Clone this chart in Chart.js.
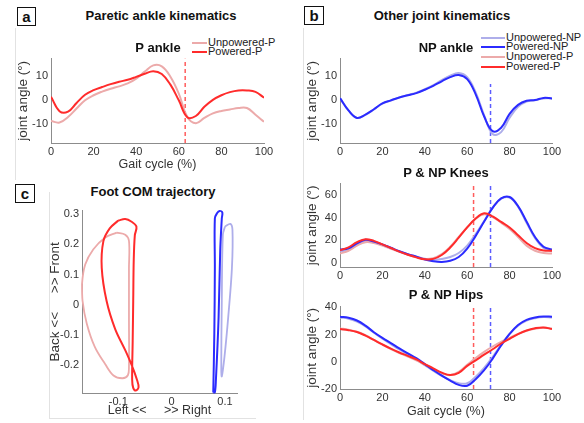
<!DOCTYPE html>
<html>
<head>
<meta charset="utf-8">
<script src="https://cdn.jsdelivr.net/npm/chart.js@4.4.0/dist/chart.umd.min.js"></script>
<style>
body { margin: 0; width: 584px; height: 423px; background: #fff; position: relative; overflow: hidden;
       font-family: 'Liberation Sans', Arial, sans-serif; }
canvas { position: absolute; }
.t { position: absolute; font-weight: bold; font-size: 13px; color: #111; white-space: nowrap;
     transform: translate(-50%, -50%); z-index: 3; }
.box { position: absolute; border: 1.5px solid #111; font-weight: bold; font-size: 15px; line-height: 17px;
       text-align: center; color: #111; z-index: 3; }
.rule { position: absolute; background: #e2e2e2; }
.leg { position: absolute; background: #fff; font-size: 11px; color: #222; z-index: 3; }
.leg div { position: absolute; white-space: nowrap; }
.leg i { position: absolute; height: 2px; }
</style>
</head>
<body>

<div class="rule" style="left:15px;top:28px;width:1px;height:152px"></div>
<div class="rule" style="left:303px;top:28px;width:1px;height:392px"></div>
<div class="rule" style="left:49px;top:192px;width:1px;height:226px"></div>
<div class="rule" style="left:49px;top:418px;width:207px;height:1px"></div>

<div class="box" style="left:17px;top:7px;width:17px;height:17px">a</div>
<div class="box" style="left:304px;top:6px;width:18px;height:17px">b</div>
<div class="box" style="left:15px;top:184px;width:18px;height:17px">c</div>

<div class="t" style="left:161px;top:15px">Paretic ankle kinematics</div>
<div class="t" style="left:158px;top:47px">P ankle</div>
<div class="t" style="left:442px;top:15px">Other joint kinematics</div>
<div class="t" style="left:446px;top:47px">NP ankle</div>
<div class="t" style="left:446px;top:172px">P &amp; NP Knees</div>
<div class="t" style="left:446px;top:294px">P &amp; NP Hips</div>
<div class="t" style="left:153px;top:191px">Foot COM trajectory</div>

<canvas id="cA" width="259" height="122" style="left:17px;top:49px"></canvas>
<canvas id="cB1" width="258" height="112" style="left:306px;top:49px"></canvas>
<canvas id="cB2" width="258" height="111" style="left:306px;top:174px"></canvas>
<canvas id="cB3" width="258" height="121" style="left:306px;top:297px"></canvas>
<canvas id="cC" width="198" height="216" style="left:49px;top:201px"></canvas>

<div class="leg" id="legA" style="left:190px;top:36px;width:86px;height:21px"></div>
<div class="leg" id="legB" style="left:479px;top:29px;width:105px;height:55px"></div>

<script>
// ---- data ----
const gait = [0, 4, 8, 12, 16, 20, 24, 28, 32, 36, 40, 44, 48, 52, 56, 60, 64, 68, 72, 76, 80, 84, 88, 92, 96, 100];

// paretic ankle (panel a)
const ankleP_unpowered = [-8.9, -9.5, -7.2, -3.7, -0.3, 1.8, 3.3, 4.5, 5.5, 6.7, 8.7, 11.6, 14.2, 13.8, 9.6, 2.5, -7.2, -9.8, -7.6, -5.7, -4.7, -4.1, -3.5, -3.5, -6.3, -9.2];
const ankleP_powered   = [1.2, -4.8, -5.0, -1.4, 2.0, 3.9, 5.2, 6.4, 7.4, 8.2, 9.4, 10.7, 11.8, 10.6, 6.3, -0.3, -7.3, -6.8, -3.0, -0.1, 1.8, 3.1, 3.8, 3.8, 3.2, 0.8];

// non-paretic ankle
const ankleNP_unpowered = [0.6, -4.5, -7.6, -6.3, -4.1, -1.7, -0.4, 0.9, 1.9, 2.9, 4.3, 6.0, 8.1, 9.9, 11.0, 9.3, 3.0, -6.5, -14.3, -13.5, -7.5, -3.0, -0.8, -0.3, 0.5, 0.5];
const ankleNP_powered   = [0.6, -4.5, -7.6, -6.2, -4.0, -1.6, -0.3, 0.9, 1.8, 2.7, 4.1, 5.7, 7.6, 9.3, 10.2, 8.5, 2.2, -7.0, -13.1, -11.7, -5.9, -2.2, -0.5, -0.2, 0.7, 0.5];

// knees
const kneeNP_unpowered = [10.5, 11.8, 16.0, 19.5, 18.5, 16.2, 13.4, 10.5, 8.0, 6.0, 4.0, 3.2, 3.8, 5.5, 9.0, 15.5, 25.5, 37.0, 48.5, 56.5, 57.5, 49.5, 35.5, 22.0, 13.5, 10.5];
const kneeNP_powered   = [12.0, 13.2, 17.5, 20.6, 19.0, 16.6, 13.6, 10.6, 8.0, 5.8, 3.4, 1.8, 1.2, 2.2, 5.5, 12.9, 24.0, 36.5, 48.5, 56.8, 58.0, 50.0, 36.5, 23.0, 14.5, 12.0];
const kneeP_unpowered  = [8.5, 11.0, 15.5, 18.5, 17.8, 15.5, 12.8, 10.0, 7.5, 5.3, 3.8, 4.5, 8.0, 14.5, 23.0, 31.5, 39.0, 42.8, 40.5, 35.5, 30.0, 23.0, 15.5, 11.0, 9.0, 8.5];
const kneeP_powered    = [11.4, 14.0, 18.5, 21.1, 19.6, 16.6, 13.4, 10.2, 7.5, 5.2, 3.6, 3.9, 7.3, 13.8, 22.4, 31.4, 39.2, 43.7, 41.0, 36.2, 31.4, 24.6, 17.8, 13.3, 11.2, 10.9];

// hips
const hipNP_unpowered = [32.5, 31.6, 29.5, 26.0, 21.3, 17.0, 13.0, 9.0, 5.3, 1.6, -2.5, -6.6, -10.4, -13.5, -15.8, -15.8, -11.0, -4.5, 3.5, 12.5, 20.5, 26.5, 30.2, 32.0, 32.8, 32.5];
const hipNP_powered   = [33.1, 32.3, 30.3, 26.5, 21.7, 17.5, 13.7, 9.8, 6.2, 2.6, -1.7, -6.1, -10.2, -13.8, -17.0, -17.6, -12.8, -6.2, 2.3, 11.9, 20.4, 27.0, 30.8, 32.5, 33.2, 33.1];
const hipP_unpowered  = [24.5, 23.5, 22.0, 19.5, 16.0, 12.5, 9.3, 6.4, 3.8, 1.0, -2.2, -5.5, -8.5, -9.8, -7.5, -2.2, 2.8, 7.3, 11.2, 14.6, 17.5, 20.5, 22.8, 24.3, 25.0, 24.5];
const hipP_powered    = [24.0, 23.2, 21.8, 19.2, 16.0, 12.7, 9.6, 6.8, 4.3, 1.7, -1.7, -4.8, -8.0, -9.8, -8.2, -3.0, 1.0, 5.3, 9.2, 13.4, 16.8, 20.3, 23.0, 24.6, 25.2, 24.0];

// toe-off (% gait cycle)
const toeOffP = 63;
const toeOffNP = 71;

// foot COM trajectory loops (m)
const comP_unpowered_x = [-0.103, -0.087, -0.080, -0.080, -0.080, -0.080, -0.082, -0.092, -0.109, -0.125, -0.144, -0.159, -0.167, -0.168, -0.162, -0.147, -0.125, -0.103];
const comP_unpowered_y = [0.239, 0.232, 0.212, 0.120, -0.040, -0.205, -0.234, -0.244, -0.235, -0.196, -0.140, -0.063, 0.013, 0.068, 0.133, 0.183, 0.222, 0.239];
const comP_powered_x = [-0.100, -0.087, -0.075, -0.066, -0.069, -0.071, -0.072, -0.073, -0.074, -0.072, -0.067, -0.062, -0.065, -0.075, -0.087, -0.106, -0.122, -0.131, -0.128, -0.116, -0.100];
const comP_powered_y = [0.279, 0.284, 0.275, 0.259, 0.230, 0.150, 0.013, -0.120, -0.249, -0.276, -0.285, -0.274, -0.249, -0.200, -0.151, -0.080, 0.013, 0.122, 0.210, 0.253, 0.279];
const comNP_powered_x = [0.078, 0.080, 0.081, 0.081, 0.085, 0.090, 0.095, 0.094, 0.091, 0.088, 0.083, 0.081, 0.078];
const comNP_powered_y = [-0.291, -0.096, 0.122, 0.286, 0.303, 0.311, 0.306, 0.286, 0.177, -0.042, -0.249, -0.291, -0.291];
const comNP_unpowered_x = [0.100, 0.110, 0.114, 0.113, 0.106, 0.099, 0.094, 0.093, 0.094, 0.096, 0.100];
const comNP_unpowered_y = [0.259, 0.268, 0.248, 0.122, -0.042, -0.173, -0.238, -0.216, 0.013, 0.232, 0.259];

// tick labels
const gaitTicks = [0, 20, 40, 60, 80, 100];
const ankleTicks = [-10, 0, 10];
const kneeTicks = [0, 20, 40, 60];
const hipTicks = [-20, 0, 20, 40];
const comXTicks = [-0.1, 0, 0.1];
const comYTicks = [-0.2, -0.1, 0, 0.1, 0.2, 0.3];

// ---- styles ----
const RED = '#ff2b2b', RED_L = '#ecaaaa', BLUE = '#2b2bff', BLUE_L = '#aeaeea';
const RED_D = '#ff5c5c', BLUE_D = '#5c5cff';
const AXIS = '#8c8c8c', TXT = '#333';
const FONT = "'Liberation Sans', Arial, sans-serif";
Chart.defaults.font.family = FONT;
Chart.defaults.animation = false;

const series = {
  unpNP: { label: 'Unpowered-NP', color: BLUE_L, order: 3 },
  powNP: { label: 'Powered-NP', color: BLUE, order: 1 },
  unpP:  { label: 'Unpowered-P', color: RED_L, order: 2 },
  powP:  { label: 'Powered-P', color: RED, order: 0 }
};

function curve(key, values) {
  const s = series[key];
  return {
    label: s.label,
    data: gait.map((g, i) => ({ x: g, y: values[i] })),
    borderColor: s.color, borderWidth: 2, pointRadius: 0, tension: 0.4, order: s.order
  };
}

function loop(key, xs, ys) {
  const s = series[key];
  return {
    label: s.label,
    data: xs.map((x, i) => ({ x: x, y: ys[i] })),
    showLine: true, borderColor: s.color, borderWidth: key.startsWith('pow') ? 2 : 1.8,
    pointRadius: 0, tension: 0.35, order: s.order, clip: false
  };
}

function toeOff(at, yMin, yMax, color) {
  return {
    data: [{ x: at, y: yMin }, { x: at, y: yMax }],
    borderColor: color, borderWidth: 1.5, borderDash: [4, 3], pointRadius: 0, order: 9
  };
}

function axis(min, max, ticks, size, title, pad) {
  const horiz = pad === 'x';
  return {
    type: 'linear', min: min, max: max,
    afterBuildTicks: s => { s.ticks = ticks.map(v => ({ value: v })); },
    afterFit: s => { if (horiz) s.height = size; else s.width = size; },
    grid: { display: false, drawTicks: false },
    border: { display: true, color: AXIS, width: 1 },
    ticks: { padding: horiz ? 2 : 3, color: TXT, font: { size: 11 }, maxRotation: 0, autoSkip: false,
             callback: v => String(v) },
    title: title ? { display: true, text: title, color: TXT,
                     font: { size: horiz ? 12.5 : 13.5, lineHeight: 1 }, padding: 0 }
                 : { display: false }
  };
}

function draw(id, datasets, x, y, padRight) {
  new Chart(document.getElementById(id), {
    type: 'scatter',
    data: { datasets: datasets },
    options: {
      responsive: false,
      layout: { padding: { left: 0, top: 8, right: padRight, bottom: 0 } },
      plugins: { legend: { display: false }, tooltip: { enabled: false } },
      elements: { line: { fill: false } },
      datasets: { scatter: { showLine: true } },
      scales: { x: x, y: y }
    }
  });
}

// panel a
draw('cA', [
  curve('unpP', ankleP_unpowered),
  curve('powP', ankleP_powered),
  toeOff(toeOffP, -18, 17, RED_D)
], axis(0, 100, gaitTicks, 28, 'Gait cycle (%)', 'x'),
   axis(-18, 17, ankleTicks, 34, 'joint angle (\u00b0)', 'y'), 12);

// panel b
draw('cB1', [
  curve('unpNP', ankleNP_unpowered),
  curve('powNP', ankleNP_powered),
  toeOff(toeOffNP, -18, 17, BLUE_D)
], axis(0, 100, gaitTicks, 18, null, 'x'),
   axis(-18, 17, ankleTicks, 34, 'joint angle (\u00b0)', 'y'), 12);

draw('cB2', [
  curve('unpNP', kneeNP_unpowered),
  curve('powNP', kneeNP_powered),
  curve('unpP', kneeP_unpowered),
  curve('powP', kneeP_powered),
  toeOff(toeOffP, -3.2, 69.7, RED_D),
  toeOff(toeOffNP, -3.2, 69.7, BLUE_D)
], axis(0, 100, gaitTicks, 18, null, 'x'),
   axis(-3.2, 69.7, kneeTicks, 34, 'joint angle (\u00b0)', 'y'), 12);

draw('cB3', [
  curve('unpNP', hipNP_unpowered),
  curve('powNP', hipNP_powered),
  curve('unpP', hipP_unpowered),
  curve('powP', hipP_powered),
  toeOff(toeOffP, -20, 40.5, RED_D),
  toeOff(toeOffNP, -20, 40.5, BLUE_D)
], axis(0, 100, gaitTicks, 29, 'Gait cycle (%)', 'x'),
   axis(-20, 40.5, hipTicks, 34, 'joint angle (\u00b0)', 'y'), 12);

// panel c
draw('cC', [
  loop('unpP', comP_unpowered_x, comP_unpowered_y),
  loop('powP', comP_powered_x, comP_powered_y),
  loop('unpNP', comNP_unpowered_x, comNP_unpowered_y),
  loop('powNP', comNP_powered_x, comNP_powered_y)
], axis(-0.168, 0.1225, comXTicks, 24, 'Left <<     >> Right', 'x'),
   axis(-0.293, 0.312, comYTicks, 33, 'Back <<     >> Front', 'y'), 10);

// legends
function legend(id, keys, lineW, rowY, rowH) {
  const el = document.getElementById(id);
  keys.forEach((k, i) => {
    const y = rowY + i * rowH;
    const ln = document.createElement('i');
    ln.style.cssText = `left:2px;top:${y - 1}px;width:${lineW}px;background:${series[k].color}`;
    const tx = document.createElement('div');
    tx.style.cssText = `left:${lineW + 3}px;top:${y - 7}px`;
    tx.textContent = series[k].label;
    el.appendChild(ln);
    el.appendChild(tx);
  });
}
legend('legA', ['unpP', 'powP'], 15, 6.5, 9.2);
legend('legB', ['unpNP', 'powNP', 'unpP', 'powP'], 24, 8.5, 9.8);
</script>
</body>
</html>
